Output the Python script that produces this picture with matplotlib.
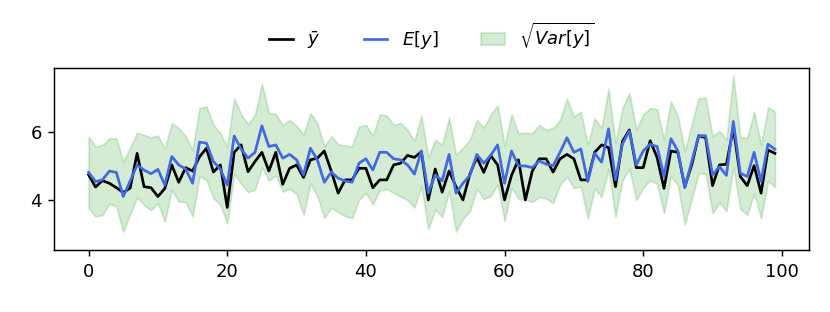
import numpy as np
import matplotlib
matplotlib.use("Agg")
import matplotlib.pyplot as plt

# observed mean (black)
y_bar = [4.73, 4.37, 4.56, 4.48, 4.35, 4.21, 4.34, 5.36, 4.38, 4.35,
         4.09, 4.33, 5.02, 4.51, 4.94, 4.84, 5.26, 5.51, 4.81, 5.02,
         3.77, 5.39, 5.61, 4.82, 5.12, 5.39, 4.84, 5.39, 4.45, 4.92,
         5.02, 4.65, 5.17, 5.22, 5.43, 4.84, 4.19, 4.58, 4.58, 4.92,
         4.92, 4.35, 4.58, 4.58, 5.02, 5.07, 5.30, 5.24, 5.41, 3.99,
         4.90, 4.22, 4.84, 4.38, 3.99, 4.75, 5.24, 4.80, 5.30, 5.02,
         3.99, 4.71, 5.17, 3.99, 4.84, 5.20, 5.20, 4.81, 5.20, 5.33,
         5.20, 4.58, 4.58, 5.39, 5.61, 5.53, 4.38, 5.71, 6.05, 4.94,
         4.94, 5.73, 5.24, 4.33, 5.43, 5.39, 4.38, 5.02, 5.88, 5.82,
         4.41, 5.02, 5.04, 6.10, 4.68, 4.41, 5.00, 4.19, 5.46, 5.36]

# predicted mean (blue)
e_y = [4.80, 4.53, 4.58, 4.84, 4.80, 4.09, 4.55, 5.02, 4.87, 4.76,
       4.89, 4.43, 5.27, 5.02, 4.90, 4.48, 5.69, 5.66, 5.12, 4.90,
       4.43, 5.87, 5.49, 5.22, 5.39, 6.17, 5.56, 5.61, 5.22, 5.33,
       5.17, 4.73, 5.51, 5.17, 4.51, 4.81, 4.63, 4.55, 4.51, 5.07,
       5.20, 4.87, 5.39, 5.39, 5.20, 5.17, 5.02, 4.75, 5.43, 4.19,
       4.73, 4.55, 5.33, 4.19, 4.48, 4.71, 5.33, 5.07, 5.30, 5.61,
       4.48, 5.43, 4.99, 4.99, 4.94, 5.14, 5.04, 5.00, 5.39, 5.82,
       5.39, 5.49, 4.53, 5.36, 5.10, 6.08, 4.58, 5.63, 6.02, 5.02,
       5.43, 5.63, 5.56, 4.68, 5.79, 5.43, 4.35, 5.12, 5.88, 5.88,
       4.73, 4.97, 4.71, 6.30, 4.78, 4.68, 5.39, 4.53, 5.63, 5.48]

# predicted std (band half width)
std_y = [1.05, 1.03, 1.03, 0.96, 1.00, 1.03, 0.98, 0.95, 1.03, 1.07,
         0.99, 1.08, 0.98, 1.08, 0.97, 0.98, 1.00, 1.08, 1.08, 1.05,
         1.13, 1.11, 1.02, 1.00, 1.10, 1.23, 1.00, 0.90, 0.98, 1.01,
         1.00, 1.18, 1.03, 1.08, 1.05, 1.05, 1.00, 1.04, 1.05, 1.08,
         1.00, 1.01, 1.12, 1.08, 1.00, 1.08, 1.03, 0.98, 1.04, 1.05,
         1.03, 1.06, 1.08, 1.13, 1.05, 1.05, 1.01, 1.05, 1.20, 1.16,
         1.11, 1.08, 0.96, 0.98, 1.01, 1.06, 1.01, 1.10, 0.95, 1.14,
         1.05, 1.10, 1.08, 1.03, 1.02, 1.18, 1.08, 1.06, 1.11, 1.03,
         1.08, 1.06, 1.10, 1.08, 1.10, 1.01, 1.08, 1.10, 1.10, 1.12,
         1.13, 1.05, 1.05, 1.35, 1.05, 1.13, 1.20, 1.08, 1.08, 1.11]

x = np.arange(len(y_bar))
e_y = np.array(e_y)
std_y = np.array(std_y)

fig = plt.figure(figsize=(830 / 130, 312 / 130), dpi=130)
ax = fig.add_axes([0.0654, 0.199, 0.9096, 0.584])

ax.plot(x, y_bar, color='black', linewidth=1.5, label=r'$\bar{y}$')
ax.plot(x, e_y, color='royalblue', linewidth=1.5, label=r'$E[y]$')
# band drawn under the lines (collections sit at a lower zorder)
ax.fill_between(x, e_y - std_y, e_y + std_y, color='tab:green', alpha=0.2, label=r'$\sqrt{Var[y]}$')

ax.set_ylim(2.52, 7.88)
ax.set_yticks([4, 6])
ax.set_xticks([0, 20, 40, 60, 80, 100])
ax.legend(loc='lower center', bbox_to_anchor=(0.5, 1.0), ncol=3, frameon=False,
          handlelength=1.3, columnspacing=2.4)

fig.savefig('out.png', dpi=130)
